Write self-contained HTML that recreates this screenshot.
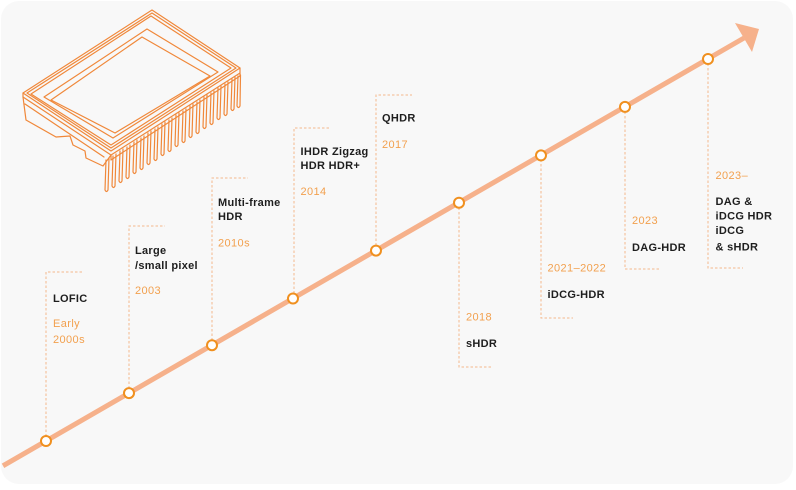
<!DOCTYPE html>
<html><head><meta charset="utf-8"><style>
html,body{margin:0;padding:0;background:#fff;}
svg{display:block;}
.k{font-family:"Liberation Sans",sans-serif;font-size:11px;font-weight:bold;fill:#1e1e1e;letter-spacing:0.3px;}
.o{font-family:"Liberation Sans",sans-serif;font-size:11px;fill:#f2a04e;letter-spacing:0.4px;}
.d{stroke:#f5b98c;stroke-width:1;stroke-dasharray:2.5,2;fill:none;}
.c{stroke:#f0883a;stroke-width:1.2;fill:none;stroke-linejoin:round;stroke-linecap:round;}
</style></head><body>
<svg width="796" height="490" viewBox="0 0 796 490" xmlns="http://www.w3.org/2000/svg">
<rect x="1" y="1" width="792" height="483" rx="18" fill="#f8f8f8"/>

<!-- chip -->
<g class="c">
  <path d="M23,93 L152,10 L240,68 L111,151 Z"/>
  <path d="M23,93 L23,97 L111,155 L240,73 L240,68"/>
  <path d="M27,93 L152,13 L236,68 L111,148 Z"/>
  <path d="M31,94 L151,16 L231,68 L111,145 Z"/>
  <path d="M44,97 L147,29 L218,72 L113,138 Z"/>
  <path d="M51,100 L142,37 L210,76 L115,133 Z"/>
  <path d="M23,97 L26,120 L56,137 L70,136 L73,145 L85,151 L86,158 L103,166 L111,155"/>
  <path d="M25,104 L104,157"/>
  <path d="M111,155 L111,160 L240,76 L240,73"/>
</g>
<g class="c">
  <path d="M106,160 l-1,30 q1.5,3 3,0 l1,-32"/>
  <path d="M113,156 l-1,30 q1.5,3 3,0 l1,-32"/>
  <path d="M120,151 l-1,30 q1.5,3 3,0 l1,-32"/>
  <path d="M127,147 l-1,30 q1.5,3 3,0 l1,-32"/>
  <path d="M134,142 l-1,30 q1.5,3 3,0 l1,-32"/>
  <path d="M141,138 l-1,30 q1.5,3 3,0 l1,-32"/>
  <path d="M148,133 l-1,30 q1.5,3 3,0 l1,-32"/>
  <path d="M155,129 l-1,30 q1.5,3 3,0 l1,-32"/>
  <path d="M162,124 l-1,30 q1.5,3 3,0 l1,-32"/>
  <path d="M169,120 l-1,30 q1.5,3 3,0 l1,-32"/>
  <path d="M176,115 l-1,30 q1.5,3 3,0 l1,-32"/>
  <path d="M183,111 l-1,30 q1.5,3 3,0 l1,-32"/>
  <path d="M190,106 l-1,30 q1.5,3 3,0 l1,-32"/>
  <path d="M197,102 l-1,30 q1.5,3 3,0 l1,-32"/>
  <path d="M204,97 l-1,30 q1.5,3 3,0 l1,-32"/>
  <path d="M211,93 l-1,30 q1.5,3 3,0 l1,-32"/>
  <path d="M218,88 l-1,30 q1.5,3 3,0 l1,-32"/>
  <path d="M225,84 l-1,30 q1.5,3 3,0 l1,-32"/>
  <path d="M232,79 l-1,30 q1.5,3 3,0 l1,-32"/>
  <path d="M238,76 l-1,30 q1.5,3 3,0 l0.5,-31"/>
</g>

<!-- dashed brackets -->
<path class="d" d="M46,441 V272 H83"/>
<path class="d" d="M129,393 V226 H165"/>
<path class="d" d="M212,345 V178 H248"/>
<path class="d" d="M294,298 V128 H330"/>
<path class="d" d="M376,250 V95 H412"/>
<path class="d" d="M459,203 V367 H493"/>
<path class="d" d="M541,155 V318 H573"/>
<path class="d" d="M625,107 V269 H660"/>
<path class="d" d="M708,59 V268 H743"/>

<!-- main line + arrow -->
<line x1="3" y1="465.8" x2="744" y2="38" stroke="#f6b18b" stroke-width="5"/>
<polygon points="759,29 735,23 752,52" fill="#f6b18b"/>

<!-- nodes -->
<g fill="#fff" stroke="#f0901f" stroke-width="2">
  <circle cx="46" cy="441" r="5"/>
  <circle cx="129" cy="393.1" r="5"/>
  <circle cx="212" cy="345.2" r="5"/>
  <circle cx="293" cy="298.5" r="5"/>
  <circle cx="376" cy="250.6" r="5"/>
  <circle cx="459" cy="202.7" r="5"/>
  <circle cx="541" cy="155.4" r="5"/>
  <circle cx="625" cy="106.9" r="5"/>
  <circle cx="708" cy="59" r="5"/>
</g>

<!-- labels -->
<text class="k" x="53" y="302">LOFIC</text>
<text class="o" x="53" y="327">Early</text>
<text class="o" x="53" y="343">2000s</text>

<text class="k" x="135" y="254">Large</text>
<text class="k" x="135" y="269">/small pixel</text>
<text class="o" x="135" y="294">2003</text>

<text class="k" x="218" y="206">Multi-frame</text>
<text class="k" x="218" y="220">HDR</text>
<text class="o" x="218" y="246.5">2010s</text>

<text class="k" x="300.5" y="155">IHDR Zigzag</text>
<text class="k" x="300.5" y="169">HDR HDR+</text>
<text class="o" x="300.5" y="195">2014</text>

<text class="k" x="382" y="121.5">QHDR</text>
<text class="o" x="382" y="148">2017</text>

<text class="o" x="466" y="320.5">2018</text>
<text class="k" x="466" y="347">sHDR</text>

<text class="o" x="547.5" y="271.5">2021–2022</text>
<text class="k" x="547.5" y="298">iDCG-HDR</text>

<text class="o" x="632" y="224">2023</text>
<text class="k" x="632" y="251">DAG-HDR</text>

<text class="o" x="715.5" y="179">2023–</text>
<text class="k" x="715.5" y="205">DAG &amp;</text>
<text class="k" x="715.5" y="219.5">iDCG HDR</text>
<text class="k" x="715.5" y="234">iDCG</text>
<text class="k" x="715.5" y="250.5">&amp; sHDR</text>
</svg>
</body></html>
